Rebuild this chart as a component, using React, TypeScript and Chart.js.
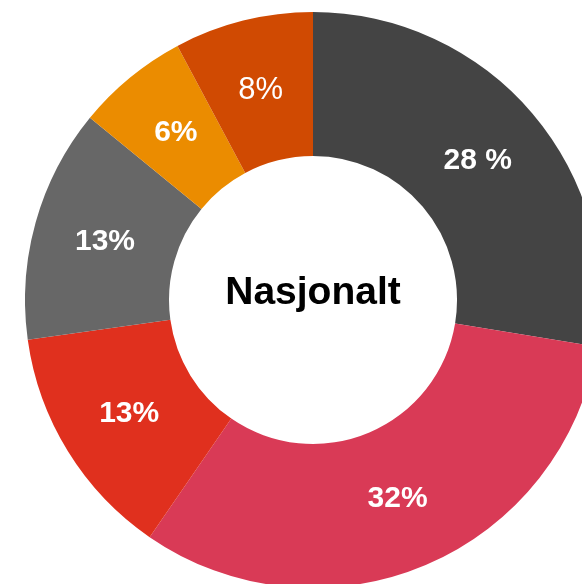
import React, { useEffect, useRef } from "react";
import { Chart, registerables } from "chart.js";

Chart.register(...registerables);

const categories = ["A", "B", "C", "D", "E", "F"];
const values = [27.6, 32.0, 13.2, 13.1, 6.3, 7.8];
const valueLabels = ["28 %", "32%", "13%", "13%", "6%", "8%"];
const colors = ["#444444", "#d93a56", "#e0301e", "#676767", "#eb8c00", "#d04a02"];
const labelWeights = ["bold", "bold", "bold", "bold", "bold", "normal"];
const centerTitle = "Nasjonalt";

const labelPlugin = {
  id: "sliceLabels",
  afterDatasetsDraw(chart: any) {
    const ctx = chart.ctx;
    const meta = chart.getDatasetMeta(0);
    ctx.save();
    ctx.textAlign = "center";
    ctx.textBaseline = "middle";
    ctx.fillStyle = "#ffffff";
    meta.data.forEach((arc: any, i: number) => {
      const p = arc.tooltipPosition();
      const w = labelWeights[i];
      ctx.font = `${w} ${w === "bold" ? 30 : 31}px "Liberation Sans", Arial, sans-serif`;
      ctx.fillText(valueLabels[i], p.x, p.y);
    });
    const first = meta.data[0];
    if (first) {
      ctx.fillStyle = "#000000";
      ctx.font = `bold 39px "Liberation Sans", Arial, sans-serif`;
      ctx.fillText(centerTitle, first.x, first.y - 7);
    }
    ctx.restore();
  },
};

export default function App() {
  const ref = useRef<HTMLCanvasElement | null>(null);
  useEffect(() => {
    if (!ref.current) return;
    const chart = new Chart(ref.current, {
      type: "doughnut",
      data: {
        labels: categories,
        datasets: [
          {
            data: values,
            backgroundColor: colors,
            borderWidth: 0,
          },
        ],
      },
      options: {
        animation: false,
        responsive: false,
        maintainAspectRatio: false,
        cutout: "50%",
        layout: { padding: 0 },
        plugins: {
          legend: { display: false },
          tooltip: { enabled: false },
          title: { display: false },
        },
      },
      plugins: [labelPlugin],
    });
    return () => chart.destroy();
  }, []);
  return (
    <div
      style={{
        position: "fixed",
        left: 0,
        top: 0,
        width: 582,
        height: 584,
        overflow: "hidden",
        background: "#ffffff",
      }}
    >
      <canvas
        ref={ref}
        width={576}
        height={576}
        style={{ position: "absolute", left: 25, top: 12, width: 576, height: 576 }}
      />
    </div>
  );
}
